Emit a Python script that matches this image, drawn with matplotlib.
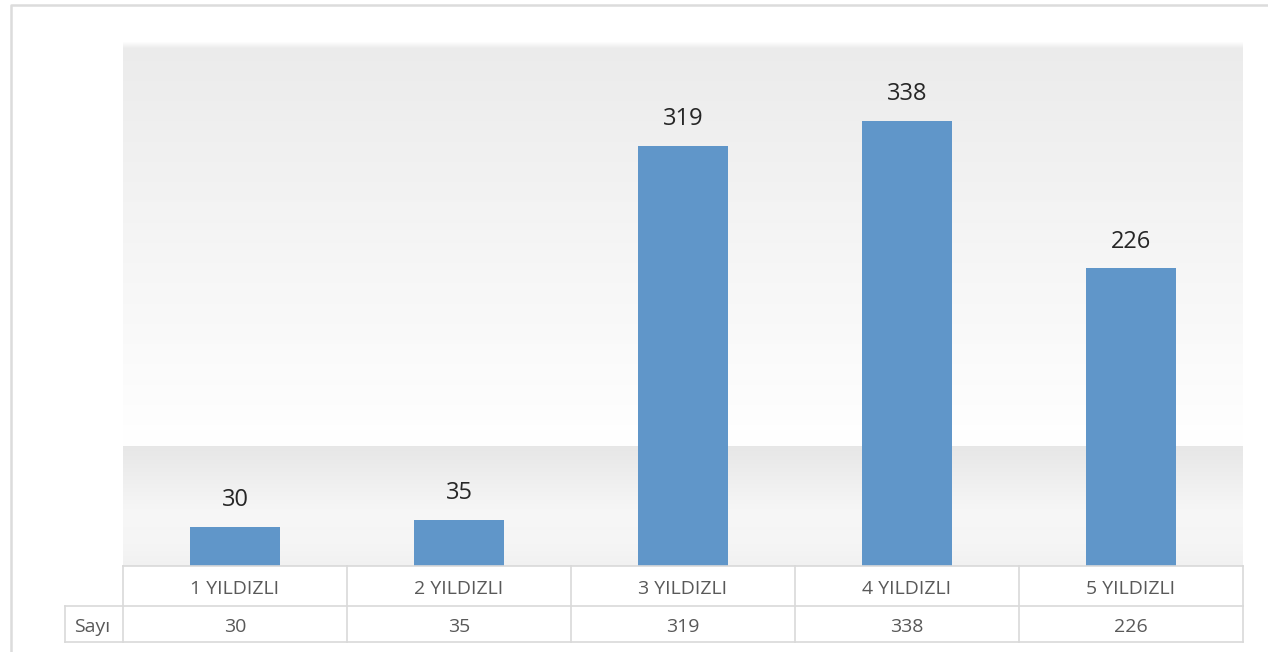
import numpy as np
import matplotlib.pyplot as plt
from matplotlib.transforms import blended_transform_factory
from matplotlib.lines import Line2D

categories = ["1 YILDIZLI", "2 YILDIZLI", "3 YILDIZLI", "4 YILDIZLI", "5 YILDIZLI"]
values = [30, 35, 319, 338, 226]
row_label = "Sayı"

BAR_COLOR = "#6096c9"
GRID_COLOR = "#d9d9d9"
TEXT_DARK = "#262626"
TEXT_GRAY = "#595959"

plt.rcParams["font.family"] = ["Open Sans", "DejaVu Sans"]

W, H = 1268, 652
fig = plt.figure(figsize=(W / 100, H / 100), dpi=100)
fig.patch.set_facecolor("white")

# plot area in pixels: x 123..1243, y 42..566
ax = fig.add_axes([123 / W, (H - 566) / H, 1120 / W, 524 / H])
ax.set_xlim(-0.5, len(categories) - 0.5)
ax.set_ylim(0, 398)
for s in ax.spines.values():
    s.set_visible(False)
ax.set_xticks([])
ax.set_yticks([])
ax.patch.set_alpha(0)

# background gradient (style only)
n = 524
split = 404
top = np.linspace(0.922, 1.0, split)
top[:6] = np.linspace(0.99, 0.93, 6)
band_pos = np.linspace(0, 1, n - split)
band = np.interp(band_pos, [0, 0.55, 0.85, 1.0], [0.905, 0.968, 0.96, 0.945])
grad = np.concatenate([top, band])
img = np.repeat(grad[:, None], 3, axis=1)[:, None, :]
ax.imshow(img, extent=[0, 1, 0, 1], transform=ax.transAxes, aspect="auto",
          zorder=0, interpolation="bilinear")

x = np.arange(len(categories))
bars = ax.bar(x, values, width=90 / 224, color=BAR_COLOR, zorder=2)
for xi, v in zip(x, values):
    ax.annotate(str(v), (xi, v), xytext=(0, 15), textcoords="offset points",
                ha="center", va="baseline", fontsize=17, color=TEXT_DARK, zorder=3)

# data table below
tr = blended_transform_factory(ax.transData, ax.transAxes)
r1 = -40 / 524
r2 = -76 / 524
left_cell = -0.5 - 58 / 224
right = len(categories) - 0.5

def hline(x0, x1, y):
    fig.add_artist(Line2D([x0, x1], [y, y], transform=tr, color=GRID_COLOR, lw=1.2, clip_on=False))

def vline(xx, y0, y1):
    fig.add_artist(Line2D([xx, xx], [y0, y1], transform=tr, color=GRID_COLOR, lw=1.2, clip_on=False))

hline(-0.5, right, 0)
hline(left_cell, right, r1)
hline(left_cell, right, r2)
vline(left_cell, r1, r2)
for b in np.arange(-0.5, right + 0.01, 1.0):
    vline(b, 0, r2)

dy = -3 / 524
for xi, cat, v in zip(x, categories, values):
    ax.text(xi, r1 / 2 + dy, cat, transform=tr, ha="center", va="center",
            fontsize=14, color=TEXT_GRAY, clip_on=False)
    ax.text(xi, (r1 + r2) / 2 + dy, str(v), transform=tr, ha="center", va="center",
            fontsize=14, color=TEXT_GRAY, clip_on=False)
ax.text(left_cell + 0.04, (r1 + r2) / 2 + dy, row_label, transform=tr, ha="left", va="center",
        fontsize=14, color=TEXT_GRAY, clip_on=False)

# chart outer border
fig.add_artist(Line2D([11 / W, 11 / W, 1.0], [0, (H - 5) / H, (H - 5) / H],
                      transform=fig.transFigure, color="#dcdcdc", lw=1.8))

fig.savefig("out.png", dpi=100)
